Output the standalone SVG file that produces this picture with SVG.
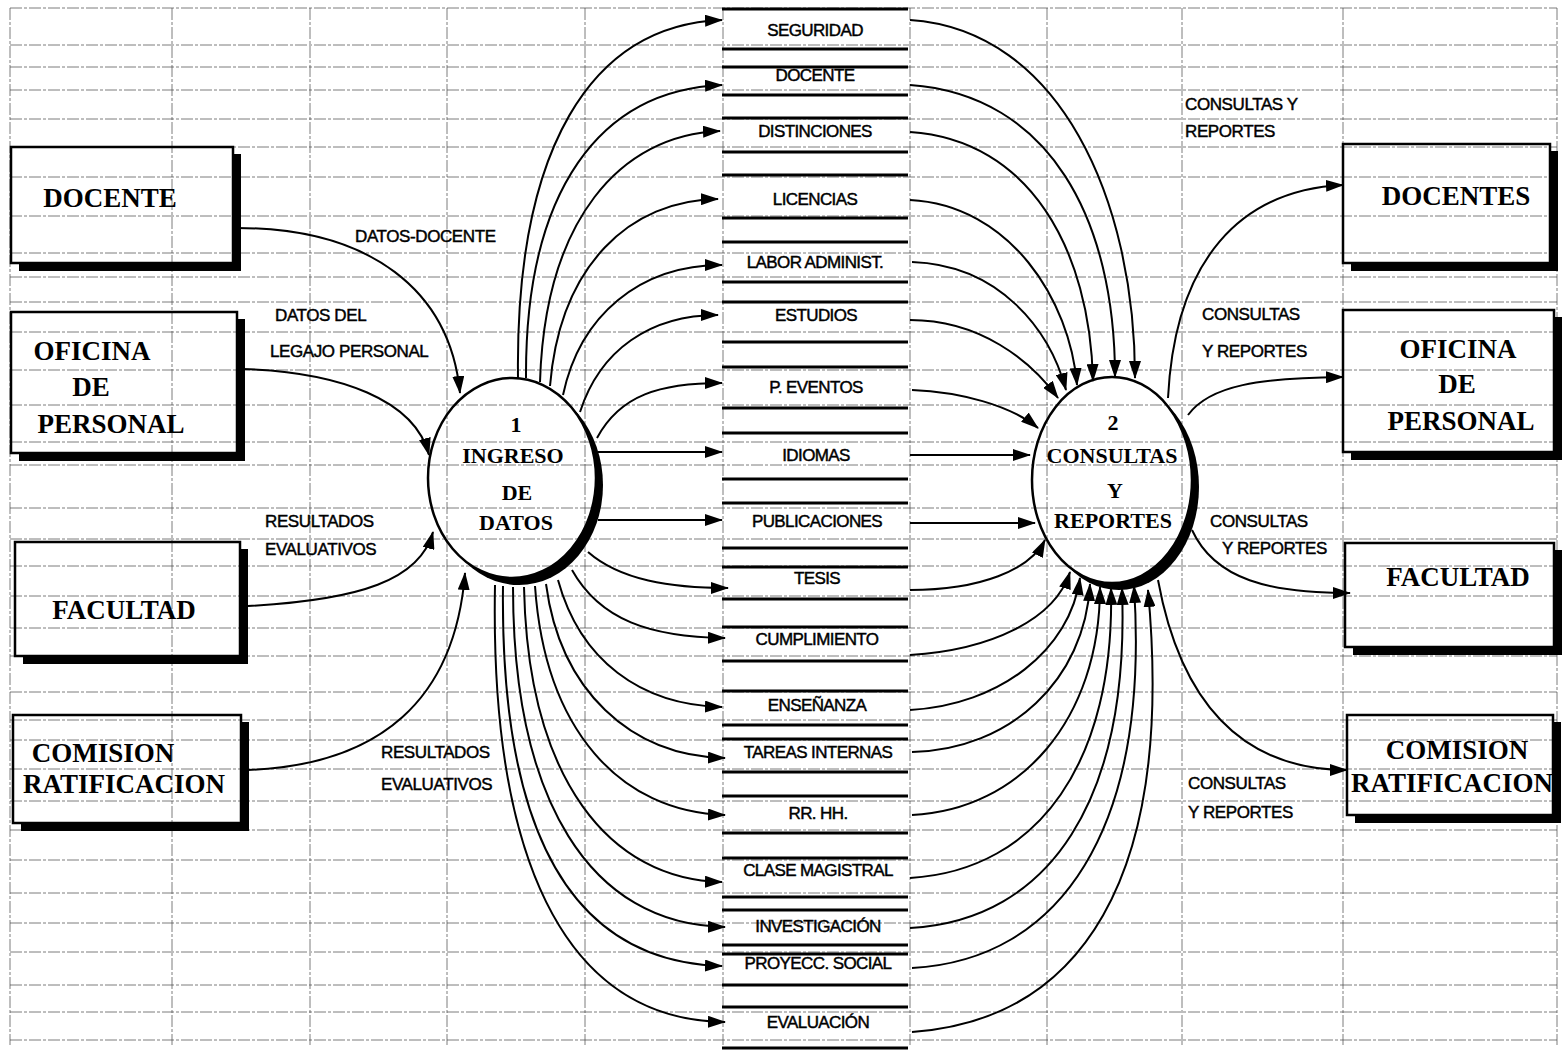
<svg xmlns="http://www.w3.org/2000/svg" width="1564" height="1051" viewBox="0 0 1564 1051">
  <style>
    .grid line { stroke: #444; stroke-width: 1; stroke-dasharray: 12 2 3 2; opacity: 0.7; }
    .box { fill: none; stroke: #000; stroke-width: 2.5; }
    .shadow { fill: #000; }
    .ent { font-family: "Liberation Serif", "Times New Roman", serif; font-weight: bold; font-size: 27px; fill: #000; text-anchor: middle; }
    .proc { font-family: "Liberation Serif", "Times New Roman", serif; font-weight: bold; font-size: 22px; fill: #000; text-anchor: middle; }
    .store line { stroke: #000; stroke-width: 3; }
    .slbl { font-family: "Liberation Sans", Arial, sans-serif; font-size: 17px; letter-spacing: -0.6px; fill: #000; stroke: #000; stroke-width: 0.45; text-anchor: middle; }
    .flbl { font-family: "Liberation Sans", Arial, sans-serif; font-size: 17px; letter-spacing: -0.4px; fill: #000; stroke: #000; stroke-width: 0.45; }
    .flow { fill: none; stroke: #000; stroke-width: 2; marker-end: url(#arr); }
  </style>
  <defs>
    <marker id="arr" viewBox="0 0 18 12" refX="17" refY="6" markerWidth="18" markerHeight="12" markerUnits="userSpaceOnUse" orient="auto">
      <path d="M0,0 L18,6 L0,12 z" fill="#000"/>
    </marker>
    <mask id="m1">
      <rect x="0" y="0" width="1564" height="1051" fill="#fff"/>
      <ellipse cx="512" cy="478" rx="84" ry="100" fill="#000"/>
    </mask>
    <mask id="m2">
      <rect x="0" y="0" width="1564" height="1051" fill="#fff"/>
      <ellipse cx="1112" cy="480" rx="80" ry="103" fill="#000"/>
    </mask>
  </defs>
  <rect x="0" y="0" width="1564" height="1051" fill="#fff"/>

  <!-- spreadsheet grid -->
  <g class="grid">
    <line x1="10" y1="8" x2="1557" y2="8"/>
    <line x1="10" y1="45" x2="1557" y2="45"/>
    <line x1="10" y1="67" x2="1557" y2="67"/>
    <line x1="10" y1="90" x2="1557" y2="90"/>
    <line x1="10" y1="119" x2="1557" y2="119"/>
    <line x1="10" y1="147" x2="1557" y2="147"/>
    <line x1="10" y1="177" x2="1557" y2="177"/>
    <line x1="10" y1="216" x2="1557" y2="216"/>
    <line x1="10" y1="253" x2="1557" y2="253"/>
    <line x1="10" y1="277" x2="1557" y2="277"/>
    <line x1="10" y1="302" x2="1557" y2="302"/>
    <line x1="10" y1="332" x2="1557" y2="332"/>
    <line x1="10" y1="370" x2="1557" y2="370"/>
    <line x1="10" y1="405" x2="1557" y2="405"/>
    <line x1="10" y1="442" x2="1557" y2="442"/>
    <line x1="10" y1="465" x2="1557" y2="465"/>
    <line x1="10" y1="508" x2="1557" y2="508"/>
    <line x1="10" y1="539" x2="1557" y2="539"/>
    <line x1="10" y1="566" x2="1557" y2="566"/>
    <line x1="10" y1="596" x2="1557" y2="596"/>
    <line x1="10" y1="628" x2="1557" y2="628"/>
    <line x1="10" y1="656" x2="1557" y2="656"/>
    <line x1="10" y1="692" x2="1557" y2="692"/>
    <line x1="10" y1="720" x2="1557" y2="720"/>
    <line x1="10" y1="740" x2="1557" y2="740"/>
    <line x1="10" y1="769" x2="1557" y2="769"/>
    <line x1="10" y1="801" x2="1557" y2="801"/>
    <line x1="10" y1="830" x2="1557" y2="830"/>
    <line x1="10" y1="860" x2="1557" y2="860"/>
    <line x1="10" y1="893" x2="1557" y2="893"/>
    <line x1="10" y1="923" x2="1557" y2="923"/>
    <line x1="10" y1="952" x2="1557" y2="952"/>
    <line x1="10" y1="985" x2="1557" y2="985"/>
    <line x1="10" y1="1012" x2="1557" y2="1012"/>
    <line x1="10" y1="1040" x2="1557" y2="1040"/>
    <line x1="10" y1="8" x2="10" y2="1045"/>
    <line x1="172" y1="8" x2="172" y2="1045"/>
    <line x1="310" y1="8" x2="310" y2="1045"/>
    <line x1="447" y1="8" x2="447" y2="1045"/>
    <line x1="585" y1="8" x2="585" y2="1045"/>
    <line x1="723" y1="8" x2="723" y2="1045"/>
    <line x1="910" y1="8" x2="910" y2="1045"/>
    <line x1="1047" y1="8" x2="1047" y2="1045"/>
    <line x1="1182" y1="8" x2="1182" y2="1045"/>
    <line x1="1343" y1="8" x2="1343" y2="1045"/>
    <line x1="1557" y1="8" x2="1557" y2="1045"/>
  </g>

  <!-- external entities, left -->
  <g id="ent-docente">
    <polygon class="shadow" points="233,154 241,154 241,271 19,271 19,263 233,263"/>
    <rect class="box" x="11" y="147" width="222" height="116"/>
    <text class="ent" x="110" y="207">DOCENTE</text>
  </g>
  <g id="ent-oficina">
    <polygon class="shadow" points="237,319 245,319 245,461 19,461 19,453 237,453"/>
    <rect class="box" x="11" y="312" width="226" height="141"/>
    <text class="ent" x="92" y="360">OFICINA</text>
    <text class="ent" x="91" y="396">DE</text>
    <text class="ent" x="111" y="433">PERSONAL</text>
  </g>
  <g id="ent-facultad">
    <polygon class="shadow" points="240,549 248,549 248,664 23,664 23,656 240,656"/>
    <rect class="box" x="15" y="542" width="225" height="114"/>
    <text class="ent" x="124" y="619">FACULTAD</text>
  </g>
  <g id="ent-comision">
    <polygon class="shadow" points="241,722 249,722 249,831 21,831 21,823 241,823"/>
    <rect class="box" x="13" y="715" width="228" height="108"/>
    <text class="ent" x="103" y="762">COMISION</text>
    <text class="ent" x="124" y="793">RATIFICACION</text>
  </g>

  <!-- external entities, right -->
  <g id="ent-docentes">
    <polygon class="shadow" points="1550,151 1558,151 1558,271 1351,271 1351,263 1550,263"/>
    <rect class="box" x="1343" y="144" width="207" height="119"/>
    <text class="ent" x="1456" y="205">DOCENTES</text>
  </g>
  <g id="ent-oficina-r">
    <polygon class="shadow" points="1554,317 1562,317 1562,460 1351,460 1351,452 1554,452"/>
    <rect class="box" x="1343" y="310" width="211" height="142"/>
    <text class="ent" x="1458" y="358">OFICINA</text>
    <text class="ent" x="1457" y="393">DE</text>
    <text class="ent" x="1461" y="430">PERSONAL</text>
  </g>
  <g id="ent-facultad-r">
    <polygon class="shadow" points="1554,550 1562,550 1562,655 1353,655 1353,647 1554,647"/>
    <rect class="box" x="1345" y="543" width="209" height="104"/>
    <text class="ent" x="1458" y="586">FACULTAD</text>
  </g>
  <g id="ent-comision-r">
    <polygon class="shadow" points="1553,722 1561,722 1561,823 1355,823 1355,815 1553,815"/>
    <rect class="box" x="1347" y="715" width="206" height="100"/>
    <text class="ent" x="1457" y="759">COMISION</text>
    <text class="ent" x="1452" y="792">RATIFICACION</text>
  </g>

  <!-- processes -->
  <g id="proc-1">
    <ellipse cx="519" cy="485" rx="84" ry="100" fill="#000" mask="url(#m1)"/>
    <ellipse cx="512" cy="478" rx="84" ry="100" fill="none" stroke="#000" stroke-width="2.5"/>
    <text class="proc" x="516" y="432">1</text>
    <text class="proc" x="513" y="463">INGRESO</text>
    <text class="proc" x="517" y="500">DE</text>
    <text class="proc" x="516" y="530">DATOS</text>
  </g>
  <g id="proc-2">
    <ellipse cx="1119" cy="487" rx="80" ry="103" fill="#000" mask="url(#m2)"/>
    <ellipse cx="1112" cy="480" rx="80" ry="103" fill="none" stroke="#000" stroke-width="2.5"/>
    <text class="proc" x="1113" y="430">2</text>
    <text class="proc" x="1112" y="463">CONSULTAS</text>
    <text class="proc" x="1115" y="498">Y</text>
    <text class="proc" x="1113" y="528">REPORTES</text>
  </g>

  <!-- data stores -->
  <g id="store-seguridad" class="store"><line x1="722" y1="9" x2="908" y2="9"/><line x1="722" y1="49" x2="908" y2="49"/><text class="slbl" x="815" y="36">SEGURIDAD</text></g>
  <g id="store-docente" class="store"><line x1="722" y1="67" x2="908" y2="67"/><line x1="722" y1="95" x2="908" y2="95"/><text class="slbl" x="815" y="81">DOCENTE</text></g>
  <g id="store-distinciones" class="store"><line x1="722" y1="118" x2="908" y2="118"/><line x1="722" y1="152" x2="908" y2="152"/><text class="slbl" x="815" y="137">DISTINCIONES</text></g>
  <g id="store-licencias" class="store"><line x1="722" y1="175" x2="908" y2="175"/><line x1="722" y1="218" x2="908" y2="218"/><text class="slbl" x="815" y="205">LICENCIAS</text></g>
  <g id="store-labor" class="store"><line x1="722" y1="242" x2="908" y2="242"/><line x1="722" y1="282" x2="908" y2="282"/><text class="slbl" x="815" y="268">LABOR ADMINIST.</text></g>
  <g id="store-estudios" class="store"><line x1="722" y1="302" x2="908" y2="302"/><line x1="722" y1="342" x2="908" y2="342"/><text class="slbl" x="816" y="321">ESTUDIOS</text></g>
  <g id="store-eventos" class="store"><line x1="722" y1="367" x2="908" y2="367"/><line x1="722" y1="408" x2="908" y2="408"/><text class="slbl" x="816" y="393">P. EVENTOS</text></g>
  <g id="store-idiomas" class="store"><line x1="722" y1="433" x2="908" y2="433"/><line x1="722" y1="479" x2="908" y2="479"/><text class="slbl" x="816" y="461">IDIOMAS</text></g>
  <g id="store-publicaciones" class="store"><line x1="722" y1="503" x2="908" y2="503"/><line x1="722" y1="548" x2="908" y2="548"/><text class="slbl" x="817" y="527">PUBLICACIONES</text></g>
  <g id="store-tesis" class="store"><line x1="722" y1="567" x2="908" y2="567"/><line x1="722" y1="599" x2="908" y2="599"/><text class="slbl" x="817" y="584">TESIS</text></g>
  <g id="store-cumplimiento" class="store"><line x1="722" y1="627" x2="908" y2="627"/><line x1="722" y1="661" x2="908" y2="661"/><text class="slbl" x="817" y="645">CUMPLIMIENTO</text></g>
  <g id="store-ensenanza" class="store"><line x1="722" y1="691" x2="908" y2="691"/><line x1="722" y1="725" x2="908" y2="725"/><text class="slbl" x="817" y="711">ENSEÑANZA</text></g>
  <g id="store-tareas" class="store"><line x1="722" y1="739" x2="908" y2="739"/><line x1="722" y1="772" x2="908" y2="772"/><text class="slbl" x="818" y="758">TAREAS INTERNAS</text></g>
  <g id="store-rrhh" class="store"><line x1="722" y1="796" x2="908" y2="796"/><line x1="722" y1="833" x2="908" y2="833"/><text class="slbl" x="818" y="819">RR. HH.</text></g>
  <g id="store-clase" class="store"><line x1="722" y1="858" x2="908" y2="858"/><line x1="722" y1="897" x2="908" y2="897"/><text class="slbl" x="818" y="876">CLASE MAGISTRAL</text></g>
  <g id="store-investigacion" class="store"><line x1="722" y1="910" x2="908" y2="910"/><line x1="722" y1="945" x2="908" y2="945"/><text class="slbl" x="818" y="932">INVESTIGACIÓN</text></g>
  <g id="store-proyeccion" class="store"><line x1="722" y1="954" x2="908" y2="954"/><line x1="722" y1="985" x2="908" y2="985"/><text class="slbl" x="818" y="969">PROYECC. SOCIAL</text></g>
  <g id="store-evaluacion" class="store"><line x1="722" y1="1007" x2="908" y2="1007"/><line x1="722" y1="1048" x2="908" y2="1048"/><text class="slbl" x="818" y="1028">EVALUACIÓN</text></g>

  <!-- data flows -->
  <g id="connectors">
    <!-- entities into process 1 -->
    <path class="flow" d="M237 228 C370 228 450 290 460 393"/>
    <path class="flow" d="M243 369 C340 372 415 400 429 455"/>
    <path class="flow" d="M248 606 C360 600 420 580 433 532"/>
    <path class="flow" d="M248 770 C380 765 455 700 465 573"/>

    <!-- process 1 into stores -->
    <path class="flow" d="M518 378 C515 150 590 25 722 20"/>
    <path class="flow" d="M526 378 C525 190 600 90 722 85"/>
    <path class="flow" d="M540 382 C545 220 620 135 720 131"/>
    <path class="flow" d="M550 386 C560 265 630 200 718 199"/>
    <path class="flow" d="M563 395 C580 315 640 265 722 265"/>
    <path class="flow" d="M580 412 C600 350 650 315 718 315"/>
    <path class="flow" d="M597 438 C620 395 660 383 722 383"/>
    <path class="flow" d="M598 452 L722 452"/>
    <path class="flow" d="M598 520 L722 520"/>
    <path class="flow" d="M588 552 C620 580 670 588 728 588"/>
    <path class="flow" d="M572 570 C600 620 650 637 725 638"/>
    <path class="flow" d="M558 580 C580 660 640 705 722 707"/>
    <path class="flow" d="M546 584 C560 690 630 756 725 758"/>
    <path class="flow" d="M535 586 C545 730 620 812 725 815"/>
    <path class="flow" d="M524 587 C528 780 610 880 722 882"/>
    <path class="flow" d="M513 587 C513 800 590 925 725 927"/>
    <path class="flow" d="M503 586 C500 830 570 962 722 966"/>
    <path class="flow" d="M495 585 C490 850 560 1020 725 1022"/>

    <!-- stores into process 2 -->
    <path class="flow" d="M910 20 C1060 30 1135 200 1135 378"/>
    <path class="flow" d="M910 85 C1050 95 1115 220 1115 377"/>
    <path class="flow" d="M910 132 C1030 140 1090 250 1093 381"/>
    <path class="flow" d="M910 200 C1010 205 1070 300 1077 385"/>
    <path class="flow" d="M912 262 C1000 265 1050 330 1066 390"/>
    <path class="flow" d="M910 320 C980 320 1030 360 1058 398"/>
    <path class="flow" d="M912 390 C960 392 1010 405 1038 428"/>
    <path class="flow" d="M910 455 L1030 455"/>
    <path class="flow" d="M910 523 L1035 523"/>
    <path class="flow" d="M910 590 C980 590 1030 570 1045 540"/>
    <path class="flow" d="M910 655 C990 650 1055 620 1070 572"/>
    <path class="flow" d="M910 710 C1000 705 1070 650 1080 578"/>
    <path class="flow" d="M912 752 C1010 750 1085 680 1090 584"/>
    <path class="flow" d="M912 815 C1020 810 1100 720 1100 587"/>
    <path class="flow" d="M910 878 C1040 870 1115 760 1111 588"/>
    <path class="flow" d="M910 928 C1050 920 1130 800 1122 588"/>
    <path class="flow" d="M912 968 C1060 960 1150 830 1134 586"/>
    <path class="flow" d="M912 1032 C1080 1020 1175 880 1148 590"/>

    <!-- process 2 to entities -->
    <path class="flow" d="M1168 398 C1175 260 1240 190 1343 185"/>
    <path class="flow" d="M1188 415 C1210 385 1260 378 1343 377"/>
    <path class="flow" d="M1192 530 C1215 580 1270 593 1350 593"/>
    <path class="flow" d="M1158 580 C1180 700 1240 770 1347 770"/>
  </g>

  <!-- flow labels -->
  <g id="flow-labels">
    <text class="flbl" x="355" y="242">DATOS-DOCENTE</text>
    <text class="flbl" x="275" y="321">DATOS DEL</text>
    <text class="flbl" x="270" y="357">LEGAJO PERSONAL</text>
    <text class="flbl" x="265" y="527">RESULTADOS</text>
    <text class="flbl" x="265" y="555">EVALUATIVOS</text>
    <text class="flbl" x="381" y="758">RESULTADOS</text>
    <text class="flbl" x="381" y="790">EVALUATIVOS</text>
    <text class="flbl" x="1185" y="110">CONSULTAS Y</text>
    <text class="flbl" x="1185" y="137">REPORTES</text>
    <text class="flbl" x="1202" y="320">CONSULTAS</text>
    <text class="flbl" x="1202" y="357">Y REPORTES</text>
    <text class="flbl" x="1210" y="527">CONSULTAS</text>
    <text class="flbl" x="1222" y="554">Y REPORTES</text>
    <text class="flbl" x="1188" y="789">CONSULTAS</text>
    <text class="flbl" x="1188" y="818">Y REPORTES</text>
  </g>
</svg>
